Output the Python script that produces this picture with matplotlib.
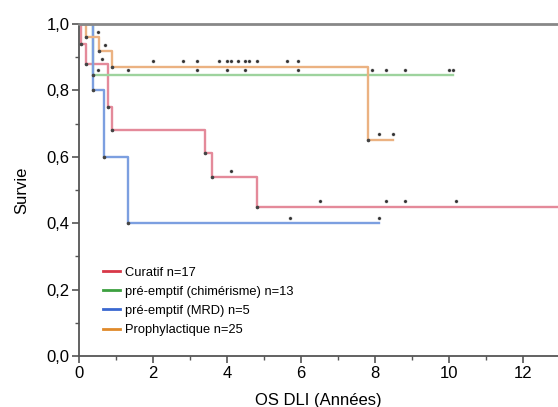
import numpy as np
import matplotlib
matplotlib.use('Agg')
import matplotlib.pyplot as plt
from matplotlib.ticker import MultipleLocator, FuncFormatter

plt.rcParams['font.family'] = ['Liberation Sans', 'DejaVu Sans']

# Kaplan-Meier steps: event times and survival after each event
cur_times = [0.05, 0.20, 0.78, 0.89, 3.41, 3.60, 4.81]
cur_surv = [0.94, 0.88, 0.75, 0.68, 0.61, 0.54, 0.45]
cur_end = 13.0
cur_cens = [0.61, 4.12, 6.51, 8.30, 8.81, 10.2]

chim_times = [0.37]
chim_surv = [0.846]
chim_end = 10.1
chim_cens = [0.52, 1.32, 3.18, 3.99, 4.50, 5.91, 7.91, 8.30, 8.81, 10.0, 10.1]

mrd_times = [0.39, 0.68, 1.32]
mrd_surv = [0.80, 0.60, 0.40]
mrd_end = 8.1
mrd_cens = [5.70, 8.1]

pro_times = [0.19, 0.55, 0.90, 7.82]
pro_surv = [0.96, 0.92, 0.872, 0.652]
pro_end = 8.5
pro_cens = [0.52, 0.70, 2.01, 2.82, 3.18, 3.79, 3.99, 4.11, 4.31, 4.50,
            4.60, 4.80, 5.61, 5.91, 8.1, 8.5]

labels = ['Curatif n=17', 'pré-emptif (chimérisme) n=13',
          'pré-emptif (MRD) n=5', 'Prophylactique n=25']
line_colors = ['#e48a9a', '#9ed39e', '#7c9fe0', '#ebb282']
legend_colors = ['#d83848', '#3ca040', '#3a68d0', '#e08a2a']

groups = [
    (cur_times, cur_surv, cur_end, cur_cens),
    (chim_times, chim_surv, chim_end, chim_cens),
    (mrd_times, mrd_surv, mrd_end, mrd_cens),
    (pro_times, pro_surv, pro_end, pro_cens),
]


def surv_at(times, surv, t):
    s = 1.0
    for ti, si in zip(times, surv):
        if t >= ti:
            s = si
    return s


fig = plt.figure(figsize=(5.58, 4.07), dpi=100)
ax = fig.add_axes([0.1416, 0.1253, 0.8584, 0.8157])

for (times, surv, end, cens), col in zip(groups, line_colors):
    xs = [0.0] + list(times) + [end]
    ys = [1.0] + list(surv) + [surv[-1]]
    ax.step(xs, ys, where='post', color=col, lw=1.7, zorder=2)
    # small dots at each step corner
    ax.plot(times, surv, 'o', ms=1.6, color='#444444', zorder=3)
    cy = [surv_at(times, surv, t) + 0.016 for t in cens]
    ax.plot(cens, cy, 'o', ms=2.2, color='#888888', mec='#bbbbbb',
            mew=0.6, zorder=3)
    ax.plot(cens, cy, 'o', ms=1.1, color='#333333', zorder=4)

handles = [plt.Line2D([], [], color=c, lw=2) for c in legend_colors]
ax.legend(handles, labels, loc='upper left', bbox_to_anchor=(0.04, 0.285),
          frameon=False, fontsize=9.3, handlelength=1.3, handletextpad=0.4,
          labelspacing=0.55, borderaxespad=0)

ax.set_xlim(0, 12.95)
ax.set_ylim(0, 1.0)
ax.xaxis.set_major_locator(MultipleLocator(2))
ax.xaxis.set_minor_locator(MultipleLocator(1))
ax.yaxis.set_major_locator(MultipleLocator(0.2))
ax.yaxis.set_minor_locator(MultipleLocator(0.1))
ax.yaxis.set_major_formatter(FuncFormatter(lambda v, p: f'{v:.1f}'.replace('.', ',')))
ax.tick_params(which='major', length=5, width=1.2, color='#555555',
               labelsize=12, pad=2)
ax.tick_params(which='minor', length=3, width=1.0, color='#555555')

ax.spines['right'].set_visible(False)
for side in ['left', 'bottom']:
    ax.spines[side].set_color('#555555')
    ax.spines[side].set_linewidth(1.3)
ax.spines['top'].set_color('#888888')
ax.spines['top'].set_linewidth(2)

ax.set_xlabel('OS DLI (Années)', fontsize=12, labelpad=9)
ax.set_ylabel('Survie', fontsize=12, labelpad=12)

fig.savefig('out.png', dpi=100)
